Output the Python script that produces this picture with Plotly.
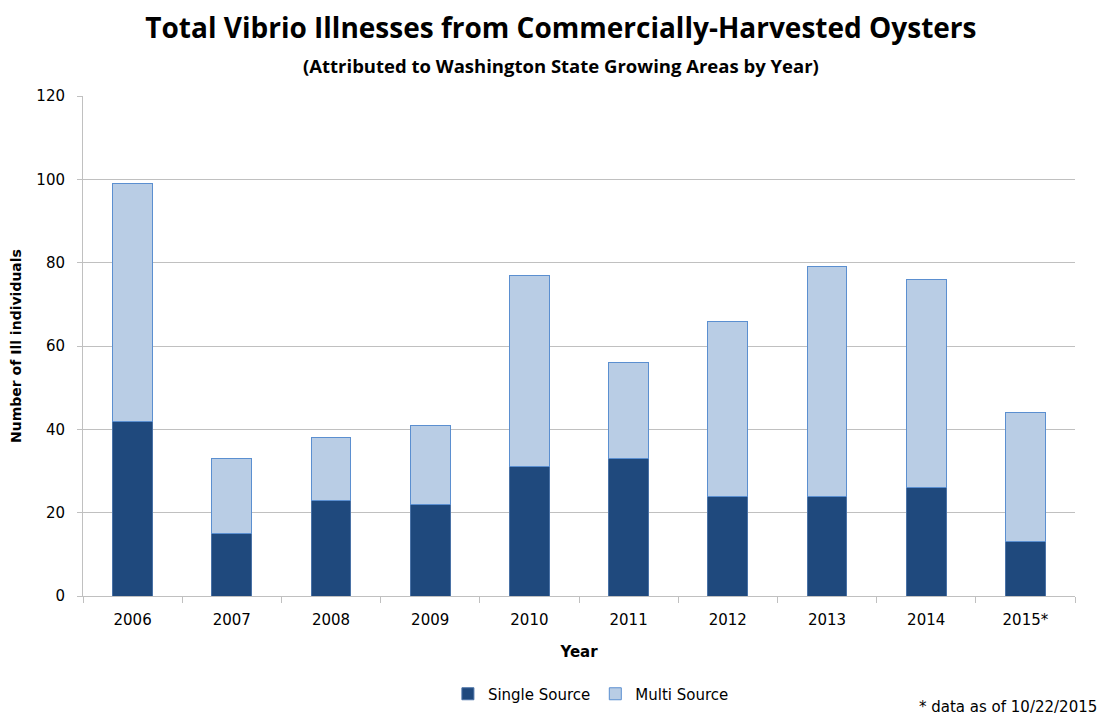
import plotly.graph_objects as go

years = ["2006", "2007", "2008", "2009", "2010", "2011", "2012", "2013", "2014", "2015*"]
single_source = [42, 15, 23, 22, 31, 33, 24, 24, 26, 13]
multi_source = [57, 18, 15, 19, 46, 23, 42, 55, 50, 31]

FONT = "DejaVu Sans"
GRID = "#c0c0c0"

fig = go.Figure()
fig.add_trace(go.Bar(
    x=years, y=single_source, name="Single Source",
    marker=dict(color="#1f497d", line=dict(color="#4a72a6", width=1)),
    width=0.4,
))
fig.add_trace(go.Bar(
    x=years, y=multi_source, name="Multi Source",
    marker=dict(color="#b9cde5", line=dict(color="#5b8fd0", width=1)),
    width=0.4,
))

# page body has an 8px margin, so the figure is drawn 8px smaller
fig.update_layout(
    barmode="stack",
    width=1097, height=709,
    margin=dict(l=75, r=30, t=88, b=121, autoexpand=False),
    paper_bgcolor="white", plot_bgcolor="white",
    font=dict(family=FONT, size=15, color="#000000"),
    title=dict(
        text="<b>Total Vibrio Illnesses from Commercially-Harvested Oysters</b>",
        x=0.504, xanchor="center", y=0.972, yanchor="middle",
        font=dict(family="Open Sans", size=28, color="#000000"),
    ),
    showlegend=True,
    legend=dict(
        orientation="h", x=0.512, xanchor="center", y=-0.196, yanchor="middle",
        font=dict(family=FONT, size=15), traceorder="normal",
        itemwidth=30,
    ),
    bargap=0.6,
)

fig.add_annotation(
    text="<b>(Attributed to Washington State Growing Areas by Year)</b>",
    xref="paper", yref="paper", x=0.482, y=1.06, xanchor="center", yanchor="middle",
    showarrow=False, font=dict(family="Open Sans", size=18.5, color="#000000"),
)
fig.add_annotation(
    text="* data as of 10/22/2015",
    xref="paper", yref="paper", x=1.024, y=-0.222, xanchor="right", yanchor="middle",
    showarrow=False, font=dict(family=FONT, size=15, color="#000000"),
)

fig.update_xaxes(
    title=dict(text="<b>Year</b>", font=dict(family=FONT, size=15), standoff=18),
    automargin=False,
    showline=True, linecolor=GRID, linewidth=1,
    ticks="outside", tickson="boundaries", ticklen=6, tickcolor=GRID,
    ticklabelstandoff=10,
    tickfont=dict(family=FONT, size=15),
    showgrid=False,
)
fig.update_yaxes(
    title=dict(text="<b>Number of Ill individuals</b>", font=dict(family=FONT, size=14), standoff=16),
    automargin=False,
    range=[0, 120], dtick=20,
    showline=True, linecolor=GRID, linewidth=1,
    ticks="outside", ticklen=5, tickcolor=GRID,
    ticklabelstandoff=9,
    gridcolor=GRID, gridwidth=1,
    tickfont=dict(family=FONT, size=15),
    zeroline=False,
)

fig.write_html("out.html")
